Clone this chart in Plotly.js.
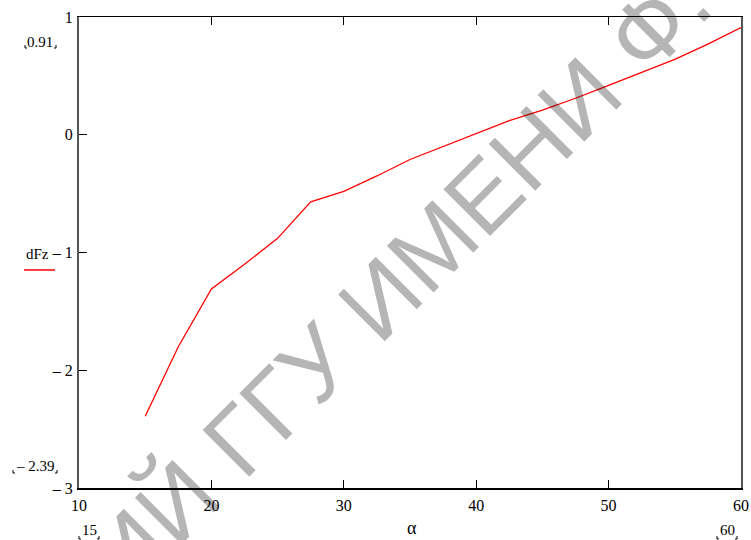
<!DOCTYPE html>
<html><head><meta charset="utf-8">
<script src="https://cdn.plot.ly/plotly-3.0.1.min.js"></script>
<style>html,body{margin:0;padding:0;background:#fff}#chart{width:751px;height:540px}</style>
</head><body><div id="chart"></div>
<script>
// data
const alpha = [15, 17.5, 20, 22.5, 25, 27.5, 30, 32.5, 35, 37.5, 40, 42.5, 45, 47.5, 50, 52.5, 55, 57.5, 60];
const dFz = [-2.39, -1.80, -1.31, -1.10, -0.88, -0.57, -0.48, -0.35, -0.21, -0.10, 0.01, 0.12, 0.21, 0.31, 0.42, 0.53, 0.64, 0.77, 0.91];
const xTickVals = [10, 20, 30, 40, 50, 60];
const yTickVals = [-3, -2, -1, 0, 1];
const yTickText = ['\u2013 3', '\u2013 2', '\u2013 1', '0', '1'];
const seriesName = 'dFz';
const xName = '\u03b1';
const markerLabels = ['0.91', '\u2013 2.39', '15', '60'];
const watermark = ['\u0420\u0415\u041f\u041e\u0417\u0418\u0422\u041e\u0420\u0418\u0419 \u0413\u0413\u0423 \u0418\u041c\u0415\u041d\u0418 \u0424. \u0421\u041a\u041e\u0420\u0418\u041d\u042b'];

const W = 751, H = 540, L = 79, R = 10, T = 17, B = 52;
const pw = W - L - R, ph = H - T - B;
const px = x => (x - L) / pw;
const py = y => (H - B - y) / ph;
const serif = 'Liberation Serif, Times New Roman, serif';

const trace = {
  x: alpha, y: dFz, type: 'scatter', mode: 'lines', name: seriesName,
  line: {color: '#ff0000', width: 1.3}, showlegend: false, hoverinfo: 'skip'
};

function ann(text, x, y, size, extra) {
  return Object.assign({text: text, xref: 'paper', yref: 'paper', x: px(x), y: py(y),
    xanchor: 'center', yanchor: 'middle', showarrow: false,
    font: {family: serif, size: size, color: '#000'}}, extra || {});
}
// tiny Mathcad-style placeholder corner marks beside the marker labels
function corners(xl, xr, yb) {
  const mk = (x, dir) => ({type: 'path', xref: 'paper', yref: 'paper',
    path: 'M' + px(x) + ',' + py(yb - 3) + ' L' + px(x) + ',' + py(yb) + ' L' + px(x + 2 * dir) + ',' + py(yb),
    line: {color: '#000', width: 1}});
  return [mk(xl, 1), mk(xr, -1)];
}

const layout = {
  width: W, height: H,
  margin: {l: L, r: R, t: T, b: B, pad: 0},
  paper_bgcolor: '#fff', plot_bgcolor: '#fff',
  showlegend: false,
  xaxis: {
    range: [10, 60], tickvals: xTickVals, ticks: 'inside', ticklen: 8, tickwidth: 1,
    tickcolor: '#000', showline: true, linecolor: '#000', linewidth: 1.5, mirror: 'ticks',
    showgrid: false, zeroline: false, tickfont: {family: serif, size: 16, color: '#000'},
    ticklabelstandoff: 2
  },
  yaxis: {
    range: [-3, 1], tickvals: yTickVals, ticktext: yTickText, ticks: 'inside', ticklen: 8,
    tickwidth: 1, tickcolor: '#000', showline: true, linecolor: '#555', linewidth: 2, mirror: true,
    showgrid: false, zeroline: false, tickfont: {family: serif, size: 16, color: '#000'},
    ticklabelstandoff: 1
  },
  annotations: [
    ann(markerLabels[0], 40, 42, 15),
    ann(markerLabels[1], 35, 466, 15),
    ann(markerLabels[2], 89, 530, 15),
    ann(markerLabels[3], 727, 530, 15),
    ann(seriesName, 37, 254, 15),
    ann(xName, 412, 528, 18),
    {text: watermark[0], xref: 'paper', yref: 'paper', x: px(370), y: py(308),
     xanchor: 'center', yanchor: 'middle', showarrow: false, textangle: -45,
     font: {family: 'Liberation Sans, Arial, sans-serif', size: 96, color: 'rgba(0,0,0,0.29)'}}
  ],
  shapes: [
    {type: 'line', xref: 'paper', yref: 'paper', x0: px(24), x1: px(55), y0: py(270), y1: py(270),
     line: {color: '#ff0000', width: 1.5}}
  ].concat(corners(25, 56, 48), corners(13, 57, 473), corners(79, 99, 539), corners(717, 737, 539))
};

Plotly.newPlot('chart', [trace], layout, {staticPlot: true, displayModeBar: false});
</script></body></html>
